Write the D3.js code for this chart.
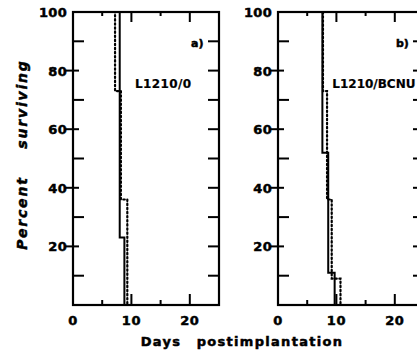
<!DOCTYPE html>
<html>
<head>
<meta charset="utf-8">
<script src="https://cdn.jsdelivr.net/npm/d3@7"></script>
<style>
  body { margin: 0; background: #fff; }
  svg { display: block; }
  .lbl { font-family: "DejaVu Sans", sans-serif; font-weight: bold; fill: #000;
         stroke: #000; stroke-width: 0.5; }
</style>
</head>
<body>
<svg id="chart" width="417" height="351"></svg>
<script>
// panel names and inset texts
const panels = ["a)", "b)"];
const cellLines = ["L1210/0", "L1210/BCNU"];

// survival steps [day, percent surviving after that day]
const solidA = [[0, 100], [8.0, 23], [8.8, 0]];
const dottedA = [[0, 100], [7.2, 73], [8.2, 36], [9.3, 0]];
const solidB = [[0, 100], [7.6, 52], [8.6, 11], [9.7, 0]];
const dottedB = [[0, 100], [7.7, 73], [8.4, 36], [9.2, 9], [10.7, 0]];

const xTickLabels = [0, 10, 20];
const xMinor = [5, 15];
const yTickLabels = [20, 40, 60, 80, 100];
const yMinor = [10, 30, 50, 70, 90];

const svg = d3.select("#chart");
const W = 146, H = 293;
const x = d3.scaleLinear().domain([0, 25]).range([0, W]);
const y = d3.scaleLinear().domain([0, 100]).range([H, 0]);

const line = d3.line()
  .x(d => x(d[0]))
  .y(d => y(d[1]))
  .curve(d3.curveStepAfter);

function drawPanel(left, name, cell, cellX, cellSpacing, solid, dotted) {
  const g = svg.append("g").attr("transform", `translate(${left},12)`);

  // curves first so the frame sits on top
  g.append("path").attr("d", line(solid))
    .attr("fill", "none").attr("stroke", "#000").attr("stroke-width", 2);
  g.append("path").attr("d", line(dotted))
    .attr("fill", "none").attr("stroke", "#000").attr("stroke-width", 2.2)
    .attr("stroke-dasharray", "1.5,2.6").attr("stroke-linecap", "round");

  // frame
  g.append("rect").attr("x", 0).attr("y", 0).attr("width", W).attr("height", H)
    .attr("fill", "none").attr("stroke", "#000").attr("stroke-width", 2.2);

  const tick = (x1, y1, x2, y2, w) => g.append("line")
    .attr("x1", x1).attr("y1", y1).attr("x2", x2).attr("y2", y2)
    .attr("stroke", "#000").attr("stroke-width", w || 2);

  // x ticks, bottom and top, pointing inward
  xTickLabels.slice(1).forEach(v => {
    tick(x(v), H, x(v), H - 11);
    tick(x(v), 0, x(v), 10);
  });
  xMinor.forEach(v => {
    tick(x(v), H, x(v), H - 5);
    tick(x(v), 0, x(v), 4);
  });

  // y ticks
  yTickLabels.slice(0, -1).forEach(v => tick(-8, y(v), 6, y(v)));
  yMinor.forEach(v => tick(0, y(v), 11, y(v)));
  yTickLabels.concat(yMinor).forEach(v => tick(W, y(v), W - 11, y(v)));

  // tick labels
  g.selectAll(".xl").data(xTickLabels).join("text")
    .attr("class", "lbl").attr("x", d => x(d)).attr("y", H + 20)
    .attr("text-anchor", "middle").attr("font-size", 13)
    .attr("letter-spacing", 0.5).text(d => d);
  g.selectAll(".yl").data(yTickLabels).join("text")
    .attr("class", "lbl").attr("x", -6).attr("y", d => y(d) + 5)
    .attr("text-anchor", "end").attr("font-size", 13)
    .attr("letter-spacing", 0.3).text(d => d);

  g.append("text").attr("class", "lbl").attr("x", 118).attr("y", 35)
    .attr("font-size", 11).text(name);
  g.append("text").attr("class", "lbl").attr("x", x(cellX)).attr("y", 76)
    .attr("font-size", 12).attr("letter-spacing", cellSpacing)
    .style("stroke-width", 0.2).text(cell);
}

drawPanel(73, panels[0], cellLines[0], 10.6, 0.4, solidA, dottedA);
drawPanel(278, panels[1], cellLines[1], 9.3, 0, solidB, dottedB);

// axis titles
svg.append("text").attr("class", "lbl")
  .attr("x", 161).attr("y", 346).attr("text-anchor", "middle")
  .attr("font-size", 13).attr("letter-spacing", 1.3)
  .text("Days");
svg.append("text").attr("class", "lbl")
  .attr("x", 270).attr("y", 346).attr("text-anchor", "middle")
  .attr("font-size", 13).attr("letter-spacing", 1.3)
  .text("postimplantation");

const yTitle = [["surviving", 104], ["Percent", 213]];
yTitle.forEach(([t, cy]) => {
  svg.append("text").attr("class", "lbl")
    .attr("transform", `translate(27,${cy}) rotate(-90)`)
    .attr("text-anchor", "middle").attr("font-size", 14)
    .attr("font-style", "italic").attr("letter-spacing", 1.8)
    .text(t);
});
</script>
</body>
</html>
